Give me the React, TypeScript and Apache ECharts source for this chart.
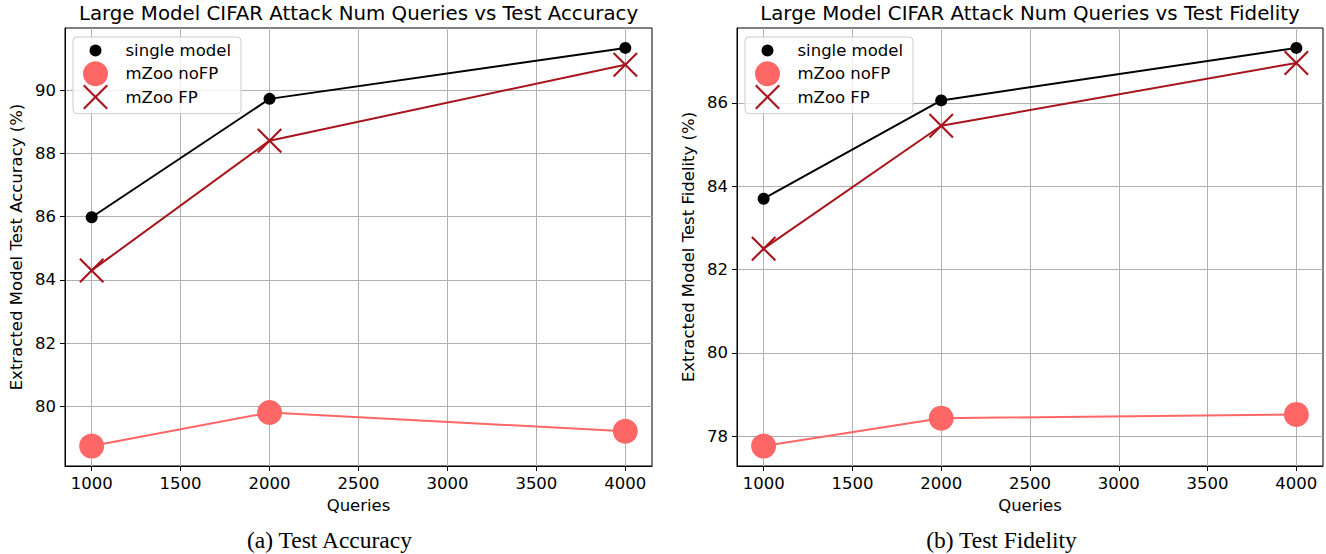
import React, { useEffect, useRef } from 'react';
import * as echarts from 'echarts';

// ---- Data ----
const queries = [1000, 2000, 4000];
const accSingle = [85.98, 89.72, 91.33];
const accNoFP = [78.75, 79.81, 79.22];
const accFP = [84.3, 88.4, 90.8];
const fidSingle = [83.7, 86.06, 87.32];
const fidNoFP = [77.76, 78.43, 78.52];
const fidFP = [82.5, 85.45, 86.96];

const xTicks = [1000, 1500, 2000, 2500, 3000, 3500, 4000];
const accTicks = [80, 82, 84, 86, 88, 90];
const fidTicks = [78, 80, 82, 84, 86];

const seriesNames = ['single model', 'mZoo noFP', 'mZoo FP'];
const titles = [
  'Large Model CIFAR Attack Num Queries vs Test Accuracy',
  'Large Model CIFAR Attack Num Queries vs Test Fidelity',
];
const yNames = ['Extracted Model Test Accuracy (%)', 'Extracted Model Test Fidelity (%)'];
const xName = 'Queries';
const captions = ['(a) Test Accuracy', '(b) Test Fidelity'];

// ---- Styles ----
const FONT = 'DejaVu Sans';
const SERIF = 'Liberation Serif';
const FS = 16.5;
const COLORS = ['#000000', '#ff6666', '#a8141c'];
const X_PATH = 'path://M0,6L6,0L50,44L94,0L100,6L56,50L100,94L94,100L50,56L6,100L0,94L44,50Z';
const DOT_PATH = 'path://M0,0M25,25M18.5,12.5A6,6,0,1,1,6.5,12.5A6,6,0,1,1,18.5,12.5Z';

const pad = (v: { min: number; max: number }, side: 'min' | 'max') => {
  const r = v.max - v.min;
  return side === 'min' ? v.min - 0.05 * r : v.max + 0.05 * r;
};

const grids = [
  { left: 65, top: 28, width: 587, height: 438 },
  { left: 737, top: 28, width: 586, height: 438 },
];

function buildOption() {
  const sets = [
    [accSingle, accNoFP, accFP],
    [fidSingle, fidNoFP, fidFP],
  ];
  const yTicks = [accTicks, fidTicks];

  const xAxis = grids.map((_, i) => ({
    type: 'value',
    gridIndex: i,
    min: (v: any) => pad(v, 'min'),
    max: (v: any) => pad(v, 'max'),
    name: xName,
    nameLocation: 'middle',
    nameGap: 31,
    nameTextStyle: { color: '#000', fontSize: FS, fontFamily: FONT },
    axisLine: { show: true, onZero: false, lineStyle: { color: '#000', width: 1 } },
    axisTick: { show: true, inside: false, length: 5, customValues: xTicks, lineStyle: { color: '#000' } },
    axisLabel: {
      customValues: xTicks,
      margin: 9,
      color: '#000',
      fontSize: FS,
      fontFamily: FONT,
      formatter: (v: number) => String(v),
    },
    splitLine: { show: true, lineStyle: { color: '#b0b0b0', width: 1 } },
  }));

  const yAxis = grids.map((_, i) => ({
    type: 'value',
    gridIndex: i,
    min: (v: any) => pad(v, 'min'),
    max: (v: any) => pad(v, 'max'),
    name: yNames[i],
    nameLocation: 'middle',
    nameGap: 40,
    nameTextStyle: { color: '#000', fontSize: FS, fontFamily: FONT },
    axisLine: { show: true, onZero: false, lineStyle: { color: '#000', width: 1 } },
    axisTick: { show: true, inside: false, length: 5, customValues: yTicks[i], lineStyle: { color: '#000' } },
    axisLabel: {
      customValues: yTicks[i],
      margin: 9,
      color: '#000',
      fontSize: FS,
      fontFamily: FONT,
      formatter: (v: number) => String(v),
    },
    splitLine: { show: true, lineStyle: { color: '#b0b0b0', width: 1 } },
  }));

  const series: any[] = [];
  sets.forEach((set, gi) => {
    set.forEach((vals, si) => {
      series.push({
        type: 'line',
        name: seriesNames[si],
        xAxisIndex: gi,
        yAxisIndex: gi,
        data: queries.map((q, k) => [q, vals[k]]),
        symbol: si === 2 ? X_PATH : 'circle',
        symbolSize: si === 0 ? 12 : 25,
        showSymbol: true,
        itemStyle: { color: COLORS[si], opacity: 1 },
        lineStyle: { color: COLORS[si], width: 2 },
        z: 2 + si,
      });
    });
  });

  const legendData = [
    { name: seriesNames[0], icon: DOT_PATH },
    { name: seriesNames[1], icon: 'circle' },
    { name: seriesNames[2], icon: X_PATH },
  ];
  const legendLefts = [73, 745];
  const legend = legendLefts.map((l) => ({
    orient: 'vertical',
    left: l,
    top: 37,
    itemWidth: 25,
    itemHeight: 25,
    itemGap: -1.7,
    padding: [1, 10, 4, 10],
    backgroundColor: 'rgba(255,255,255,0.8)',
    borderColor: '#cccccc',
    borderWidth: 1,
    borderRadius: 4,
    selectedMode: false,
    data: legendData,
    textStyle: { color: '#000', fontSize: FS, fontFamily: FONT, padding: [0, 0, 0, 12.5] },
  }));

  const centers = grids.map((g) => g.left + g.width / 2);
  const graphic: any[] = [];
  titles.forEach((t, i) => {
    graphic.push({
      type: 'text',
      x: centers[i],
      y: 13,
      style: {
        text: t,
        fontSize: 19.8,
        fontFamily: FONT,
        fill: '#000',
        align: 'center',
        verticalAlign: 'middle',
        textAlign: 'center',
        textVerticalAlign: 'middle',
      },
    });
  });
  const captionX = [329.5, 1001.5];
  captions.forEach((c, i) => {
    graphic.push({
      type: 'text',
      x: captionX[i],
      y: 540,
      style: {
        text: c,
        fontSize: 23.5,
        fontFamily: SERIF,
        fill: '#000',
        align: 'center',
        verticalAlign: 'middle',
        textAlign: 'center',
        textVerticalAlign: 'middle',
      },
    });
  });

  return {
    animation: false,
    backgroundColor: '#ffffff',
    grid: grids.map((g) => ({ ...g, show: true, borderColor: '#000', borderWidth: 1, containLabel: false })),
    xAxis,
    yAxis,
    series,
    legend,
    graphic,
  };
}

export default function App() {
  const ref = useRef<HTMLDivElement>(null);
  useEffect(() => {
    if (!ref.current) return;
    const chart = echarts.init(ref.current, undefined, { renderer: 'svg' });
    chart.setOption(buildOption() as any);
    return () => chart.dispose();
  }, []);
  return (
    <div
      ref={ref}
      style={{ position: 'fixed', left: 0, top: 0, width: 1326, height: 554, background: '#fff' }}
    />
  );
}
